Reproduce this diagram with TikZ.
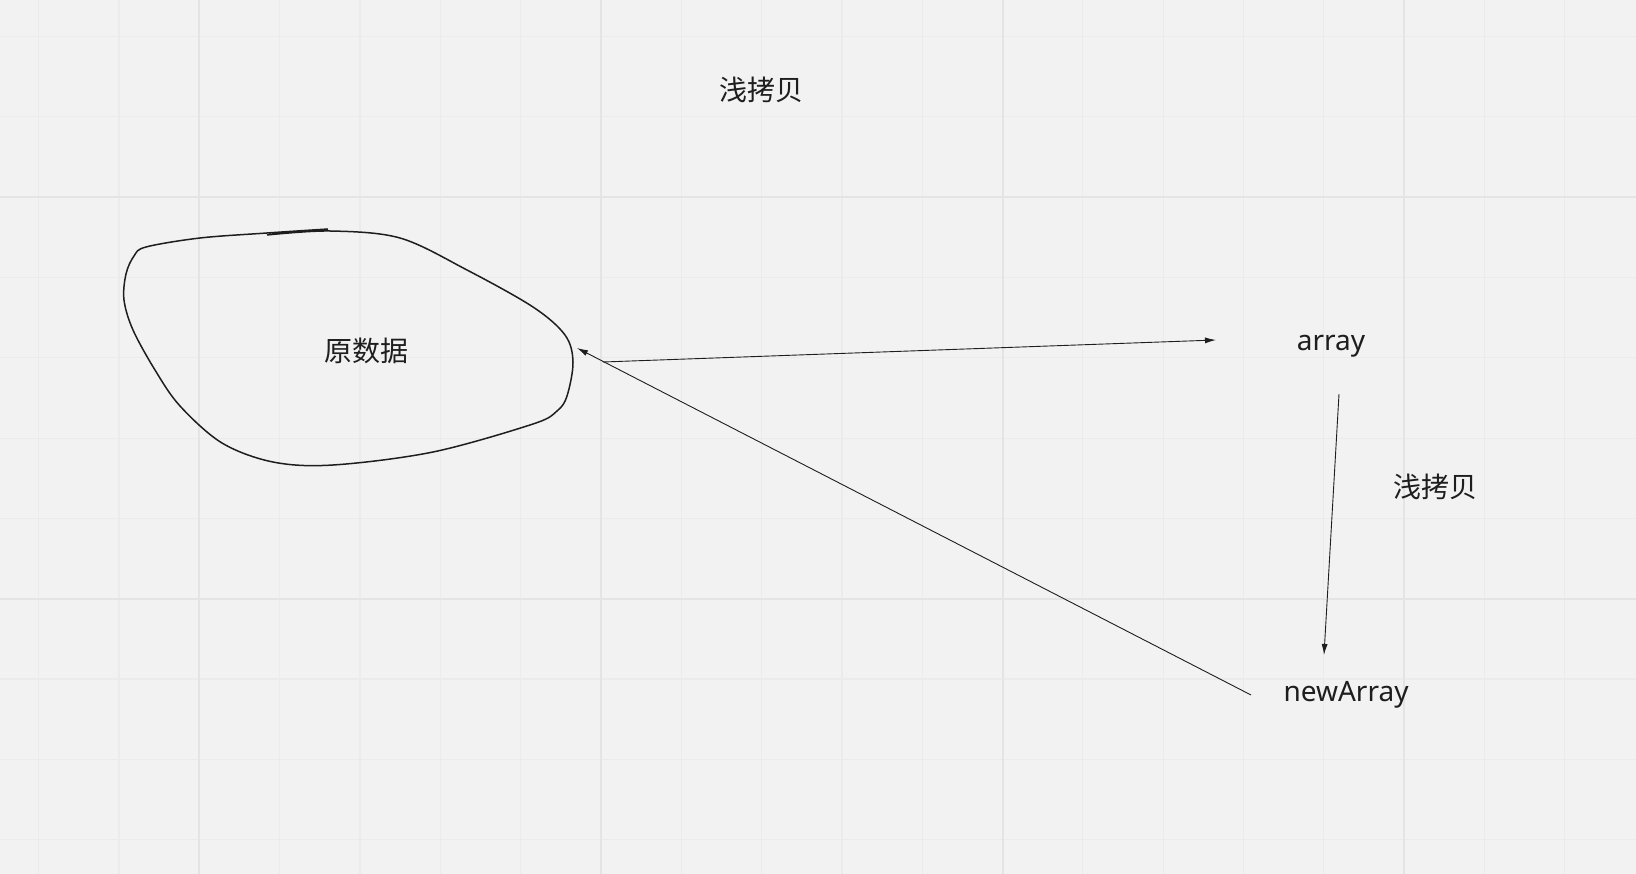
\documentclass[tikz,border=0pt]{standalone}
\usepackage{fontspec}
\usepackage{tikz}
\usetikzlibrary{arrows.meta}
\setmainfont{Noto Sans}
\newfontfamily\cjk{Noto Sans CJK SC}
\definecolor{boardbg}{RGB}{242,242,242}
\definecolor{gridminor}{RGB}{235,235,235}
\definecolor{gridmajor}{RGB}{228,228,228}
\definecolor{inkgray}{RGB}{30,30,30}

\begin{document}
\begin{tikzpicture}[x=1pt,y=-1pt,
    minorline/.style={gridminor,line width=1.2pt},
    majorline/.style={gridmajor,line width=2pt},
    label/.style={text=inkgray,font=\fontsize{28}{34}\selectfont,inner sep=2pt},
    cnlabel/.style={label,font=\cjk\fontsize{28}{34}\selectfont},
    link/.style={inkgray,line width=0.9pt,-{Latex[length=11pt,width=6pt]}}]
    % Board
    \fill[boardbg] (0,0) rectangle (1636,874);
    \useasboundingbox (0,0) rectangle (1636,874);

    % Grid
    \foreach \i in {0,...,20} {
        \draw[minorline] ({38.7+80.32*\i},0) -- ++(0,874);
    }
    \foreach \i in {0,...,10} {
        \draw[minorline] (0,{36.5+80.32*\i}) -- ++(1636,0);
    }
    \foreach \i in {0,1,2,3} {
        \draw[majorline] ({199.3+401.6*\i},0) -- ++(0,874);
    }
    \foreach \i in {0,1} {
        \draw[majorline] (0,{197.2+401.6*\i}) -- ++(1636,0);
    }

    % Hand-drawn blob
    \draw[inkgray,line width=1.5pt,line join=round] plot[smooth,tension=0.55] coordinates {
        (267,235) (330,231) (400,238) (467,270) (533,307) (565,335) (573,362)
        (567,396) (557,411) (533,424) (433,452) (333,465) (273,462) (222,443)
        (180,406) (155,370) (133,330) (124,300) (126,274) (134,256) (146,247)
        (200,238) (267,233) (328,229)};

    % Texts
    \node[cnlabel] (title) at (761,90) {浅拷贝};
    \node[cnlabel] (orig) at (366,351) {原数据};
    \node[label] (array) at (1331,346) {array};
    \node[cnlabel] (copy) at (1435,487) {浅拷贝};
    \node[label] (newarr) at (1346,695) {newArray};

    % Arrow ends
    \coordinate (blobout) at (603,362);
    \coordinate (blobin) at (577,348);
    \coordinate (arrayin) at (1216,340);
    \coordinate (arrayout) at (1339,394);
    \coordinate (newin) at (1324,655);
    \coordinate (newout) at (1251,695);

    % Connection lines
    \draw[link] (blobout) -- (arrayin);
    \draw[link] (arrayout) -- (newin);
    \draw[link] (newout) -- (blobin);
\end{tikzpicture}
\end{document}
